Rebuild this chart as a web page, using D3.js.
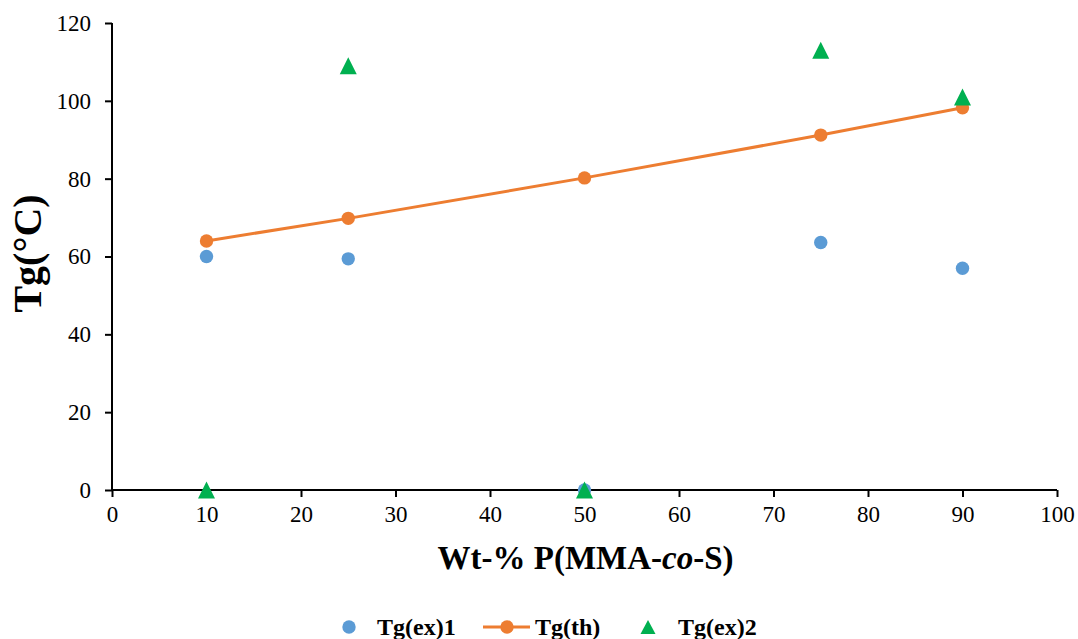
<!DOCTYPE html>
<html>
<head>
<meta charset="utf-8">
<script src="https://cdn.jsdelivr.net/npm/d3@7"></script>
<style>
  body { margin: 0; background: #fff; }
  text { font-family: "Liberation Serif", "Times New Roman", serif; }
</style>
</head>
<body>
<div id="chart"></div>
<script>
// data
const wtPct = [10, 25, 50, 75, 90];
const tgEx1 = [60, 59.4, 0, 63.6, 57];
const tgTh = [64, 69.8, 80.2, 91.2, 98.2];
const tgEx2 = [0, 109, 0, 113, 101];
const xTicks = [0, 10, 20, 30, 40, 50, 60, 70, 80, 90, 100];
const yTicks = [0, 20, 40, 60, 80, 100, 120];

const W = 1078, H = 639;
const margin = { top: 23, right: 21, bottom: 149, left: 112 };
const width = W - margin.left - margin.right;
const height = H - margin.top - margin.bottom;

const svg = d3.select("#chart").append("svg")
  .attr("width", W).attr("height", H);
const g = svg.append("g")
  .attr("transform", `translate(${margin.left},${margin.top})`);

const x = d3.scaleLinear().domain([0, 100]).range([0, width]);
const y = d3.scaleLinear().domain([0, 120]).range([height, 0]);

const blue = "#5B9BD5", orange = "#ED7D31", green = "#00B050";

// triangle centred on its bounding box, like the excel marker
function triangle(w, h) {
  return `M0,${-h / 2}L${w / 2},${h / 2}L${-w / 2},${h / 2}Z`;
}

// axes
const xAxis = g.append("g")
  .attr("transform", `translate(0,${height})`)
  .call(d3.axisBottom(x).tickValues(xTicks).tickSize(7).tickPadding(9));
const yAxis = g.append("g")
  .call(d3.axisLeft(y).tickValues(yTicks).tickSize(7).tickPadding(14));
[xAxis, yAxis].forEach(a => {
  a.select(".domain").attr("stroke", "#000").attr("stroke-width", 2);
  a.selectAll(".tick line").attr("stroke", "#000").attr("stroke-width", 2);
  a.selectAll(".tick text")
    .style("font-family", "'Liberation Serif', serif")
    .style("font-size", "23px").attr("fill", "#000");
});
xAxis.select(".domain").attr("d", `M0,0H${width}`);
yAxis.select(".domain").attr("d", `M0,${height}V0`);

// Tg(th) line
const line = d3.line().x((d, i) => x(wtPct[i])).y(d => y(d));
g.append("path").datum(tgTh)
  .attr("fill", "none").attr("stroke", orange).attr("stroke-width", 3)
  .attr("d", line);

// Tg(ex)1 points
g.selectAll(".ex1").data(tgEx1).join("circle")
  .attr("cx", (d, i) => x(wtPct[i])).attr("cy", d => y(d))
  .attr("r", 6.7).attr("fill", blue);

g.selectAll(".th").data(tgTh).join("circle")
  .attr("cx", (d, i) => x(wtPct[i])).attr("cy", d => y(d))
  .attr("r", 6.7).attr("fill", orange);

g.selectAll(".ex2").data(tgEx2).join("path")
  .attr("d", triangle(17, 17))
  .attr("transform", (d, i) => `translate(${x(wtPct[i])},${y(d)})`)
  .attr("fill", green);

// axis titles
svg.append("text")
  .attr("x", margin.left + width / 2 + 1).attr("y", 569)
  .attr("text-anchor", "middle")
  .style("font-size", "33px").style("font-weight", "bold")
  .html('Wt-% P(MMA-<tspan font-style="italic">co</tspan>-S)');

svg.append("text")
  .attr("transform", `translate(41,${margin.top + height / 2 - 3}) rotate(-90)`)
  .attr("text-anchor", "middle")
  .style("font-size", "40px").style("font-weight", "bold")
  .text("Tg(°C)");

// legend
const ly = 627;
const legend = svg.append("g").style("font-size", "24px").style("font-weight", "bold");
legend.append("circle").attr("cx", 349).attr("cy", ly).attr("r", 6.7).attr("fill", blue);
legend.append("text").attr("x", 377).attr("y", ly + 8).text("Tg(ex)1");
legend.append("line").attr("x1", 483).attr("x2", 530).attr("y1", ly).attr("y2", ly)
  .attr("stroke", orange).attr("stroke-width", 3);
legend.append("circle").attr("cx", 507).attr("cy", ly).attr("r", 6.7).attr("fill", orange);
legend.append("text").attr("x", 535).attr("y", ly + 8).text("Tg(th)");
legend.append("path").attr("d", triangle(15, 14))
  .attr("transform", `translate(648,${ly})`).attr("fill", green);
legend.append("text").attr("x", 678).attr("y", ly + 8).text("Tg(ex)2");
</script>
</body>
</html>
